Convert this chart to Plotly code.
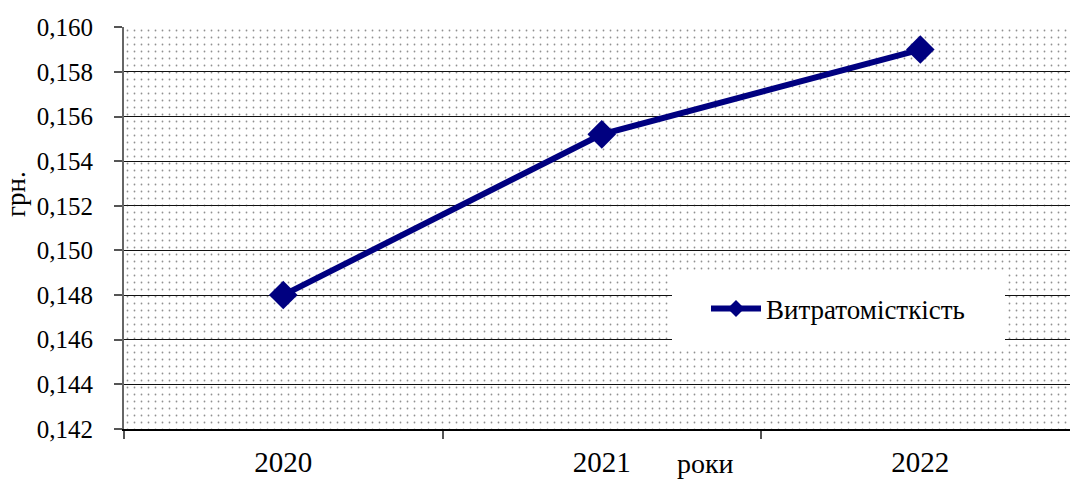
import plotly.graph_objects as go

# Витратомісткість by year
years = ["2020", "2021", "2022"]
values = [0.148, 0.1552, 0.159]
y_ticks = [0.142, 0.144, 0.146, 0.148, 0.150, 0.152, 0.154, 0.156, 0.158, 0.160]

SERIF = "Liberation Serif"
NAVY = "#000080"

W, H = 1070, 480
L, R, T, B = 124, 0, 27, 51
pw, ph = W - L - R, H - T - B


def px_x(x):
    return (x - L) / pw


def px_y(y):
    return (H - B - y) / ph


fig = go.Figure()

# dotted plot-area background on the hidden base axes
fig.add_trace(go.Scatter(
    x=[0, 1, 1, 0, 0], y=[0, 0, 1, 1, 0],
    mode="lines", fill="toself", line=dict(width=0),
    fillcolor="rgba(0,0,0,0)",
    fillpattern=dict(shape=".", fgcolor="#222", bgcolor="rgba(0,0,0,0)",
                     size=7, solidity=0.05),
    hoverinfo="skip", showlegend=False,
    xaxis="x", yaxis="y",
))

# data series on the visible axes
fig.add_trace(go.Scatter(
    x=years, y=values, name="Витратомісткість",
    mode="lines+markers",
    line=dict(color=NAVY, width=6),
    marker=dict(symbol="diamond", size=22, color=NAVY),
    showlegend=False,
    xaxis="x2", yaxis="y2",
))

# legend entry with a smaller marker
fig.add_trace(go.Scatter(
    x=[None], y=[None], name="Витратомісткість",
    mode="lines+markers",
    line=dict(color=NAVY, width=6),
    marker=dict(symbol="diamond", size=13, color=NAVY),
    xaxis="x2", yaxis="y2",
))

fig.update_layout(
    width=W, height=H,
    margin=dict(l=L, r=R, t=T, b=B, pad=0),
    paper_bgcolor="white", plot_bgcolor="white",
    separators=",.",
    font=dict(family=SERIF, color="black"),
    xaxis=dict(range=[0, 1], visible=False, fixedrange=True),
    yaxis=dict(range=[0, 1], visible=False, fixedrange=True),
    xaxis2=dict(
        overlaying="x", anchor="y2", type="category",
        range=[-0.5, 2.47],
        showgrid=False, zeroline=False,
        showline=True, linecolor="black", linewidth=2,
        ticks="outside", tickson="boundaries", ticklen=8, tickwidth=2,
        tickcolor="#555",
        tickfont=dict(family=SERIF, size=29, color="black"),
        ticklabelstandoff=6,
    ),
    yaxis2=dict(
        overlaying="y", anchor="x2",
        range=[0.142, 0.16001],
        tickvals=y_ticks, tickformat=".3f",
        showgrid=True, gridcolor="#111", gridwidth=1.3,
        zeroline=False,
        showline=True, linecolor="#666", linewidth=2,
        ticks="outside", ticklen=8, tickwidth=2, tickcolor="#555",
        tickfont=dict(family=SERIF, size=25, color="black"),
        ticklabelstandoff=16,
    ),
    showlegend=True,
    legend=dict(
        x=px_x(706), y=px_y(309), xanchor="left", yanchor="middle",
        bgcolor="rgba(0,0,0,0)", borderwidth=0,
        font=dict(family=SERIF, size=27, color="black"),
        itemwidth=50,
    ),
    shapes=[dict(
        type="rect", xref="paper", yref="paper", layer="above",
        x0=px_x(672), x1=px_x(1005), y0=px_y(348), y1=px_y(270),
        fillcolor="white", line=dict(width=0),
    )],
    annotations=[
        dict(text="роки", xref="paper", yref="paper",
             x=px_x(705), y=px_y(463), xanchor="center", yanchor="middle",
             showarrow=False, font=dict(family=SERIF, size=28, color="black")),
        dict(text="грн.", xref="paper", yref="paper", textangle=-90,
             x=px_x(16), y=px_y(194), xanchor="center", yanchor="middle",
             showarrow=False, font=dict(family=SERIF, size=27, color="black")),
    ],
)

fig.write_html("out.html")
